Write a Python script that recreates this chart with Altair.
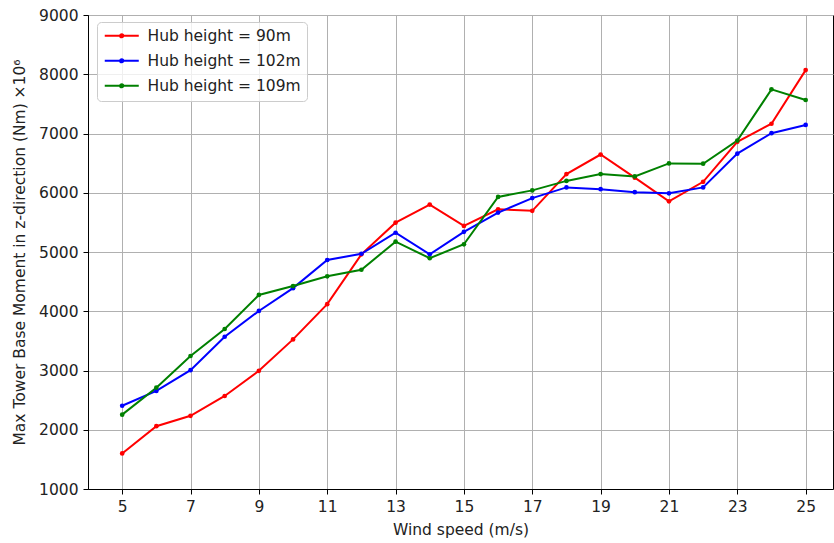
import altair as alt
import pandas as pd

wind = list(range(5, 26))
hub90 = [1600, 2060, 2235, 2570, 2995, 3525, 4120, 4960, 5495, 5800, 5440,
         5720, 5695, 6315, 6645, 6255, 5855, 6185, 6860, 7165, 8070]
hub102 = [2405, 2655, 3005, 3570, 4005, 4390, 4865, 4970, 5325, 4960, 5340,
          5665, 5910, 6090, 6060, 6010, 5990, 6090, 6660, 7005, 7145]
hub109 = [2255, 2710, 3245, 3700, 4275, 4425, 4590, 4700, 5175, 4895, 5130,
          5930, 6040, 6200, 6315, 6275, 6495, 6490, 6880, 7745, 7565]
labels = ["Hub height = 90m", "Hub height = 102m", "Hub height = 109m"]
colors = ["#ff0000", "#0000ff", "#008000"]
x_ticks = list(range(5, 26, 2))
y_ticks = list(range(1000, 9001, 1000))

rows = []
for lab, vals in zip(labels, [hub90, hub102, hub109]):
    for w, v in zip(wind, vals):
        rows.append({"wind": w, "moment": v, "series": lab})
df = pd.DataFrame(rows)

FONT = "DejaVu Sans"
FS = 15.5
# legend glyph: a line with a small dot in the middle (scaled by 6 px per unit)
sym = ("M-1,0H4.67"
       "M1.56,0A0.27,0.27 0 1 1 2.1,0A0.27,0.27 0 1 1 1.56,0Z")

chart = alt.Chart(df).mark_line(
    strokeWidth=2,
    point=alt.OverlayMarkDef(filled=True, size=22, opacity=1),
).encode(
    x=alt.X("wind:Q", scale=alt.Scale(domain=[4, 25.8], nice=False, zero=False),
            axis=alt.Axis(values=x_ticks, title="Wind speed (m/s)", format="d")),
    y=alt.Y("moment:Q", scale=alt.Scale(domain=[1000, 9000], nice=False, zero=False),
            axis=alt.Axis(values=y_ticks, title="Max Tower Base Moment in z-direction (Nm) ×10⁶",
                          format="d")),
    color=alt.Color("series:N", scale=alt.Scale(domain=labels, range=colors),
                    legend=alt.Legend(title=None, orient="none", legendX=9, legendY=7,
                                      symbolType=sym, symbolSize=144, symbolStrokeWidth=2,
                                      labelFontSize=FS, labelFont=FONT, labelColor="#222",
                                      rowPadding=8, padding=6,
                                      fillColor="rgba(255,255,255,0.8)",
                                      strokeColor="#cccccc", cornerRadius=4, labelOffset=29)),
).properties(
    width=745, height=474,
    autosize=alt.AutoSizeParams(type="none"),
    padding={"left": 88, "top": 15, "right": 1, "bottom": 54},
).configure_view(
    stroke="black", strokeWidth=1,
).configure_axis(
    grid=True, gridColor="#b0b0b0", gridWidth=1,
    domainColor="black", domainWidth=1,
    tickColor="black", tickSize=5, tickWidth=1,
    labelFont=FONT, labelFontSize=FS, labelColor="#222", labelPadding=5,
    titleFont=FONT, titleFontSize=FS, titleFontWeight="normal", titleColor="#222",
).configure_axisX(titlePadding=8).configure_axisY(titlePadding=11)

chart.save("out.html", embed_options={"renderer": "svg", "actions": False})
